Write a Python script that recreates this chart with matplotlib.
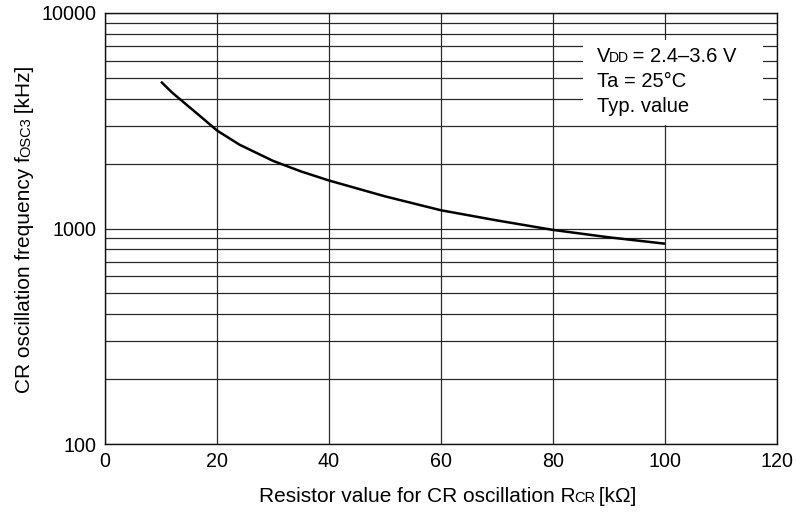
import numpy as np
import matplotlib
matplotlib.use("Agg")
import matplotlib.pyplot as plt
from matplotlib.patches import Rectangle
from matplotlib.ticker import FixedLocator, NullFormatter

plt.rcParams['font.family'] = ['Liberation Sans', 'DejaVu Sans']

# Curve data
r_cr = [10, 12, 14, 17, 20, 24, 30, 35, 40, 50, 60, 70, 80, 90, 100]       # kOhm
f_osc = [4800, 4270, 3860, 3320, 2850, 2450, 2060, 1840, 1670, 1410,
         1215, 1090, 985, 910, 850]                                         # kHz

x_ticks = [0, 20, 40, 60, 80, 100, 120]
y_ticks = [100, 1000, 10000]
y_minor = [200, 300, 400, 500, 600, 700, 800, 900,
           2000, 3000, 4000, 5000, 6000, 7000, 8000, 9000]

W, H = 797, 513
fig = plt.figure(figsize=(W / 100, H / 100), dpi=100)
ax = fig.add_axes([105 / W, 1 - 444 / H, 672 / W, 431 / H])

ax.set_yscale('log')
ax.set_xlim(0, 120)
ax.set_ylim(100, 10000)
ax.set_xticks(x_ticks)
ax.set_yticks(y_ticks)
ax.set_yticklabels([str(v) for v in y_ticks])
ax.yaxis.set_minor_locator(FixedLocator(y_minor))
ax.yaxis.set_minor_formatter(NullFormatter())
ax.tick_params(which='both', length=0, labelsize=14.2, pad=6)

grid_kw = dict(color='#2a2a2a', lw=0.9)
ax.grid(True, which='major', axis='both', **grid_kw)
ax.grid(True, which='minor', axis='y', **grid_kw)
ax.set_axisbelow(True)
for s in ax.spines.values():
    s.set_color('#111111')
    s.set_linewidth(1.0)

ax.plot(r_cr, f_osc, color='black', lw=1.8, solid_capstyle='butt', zorder=3)

# white box behind the conditions text
ax.add_patch(Rectangle((0.711, 0.740), 0.268, 0.197, transform=ax.transAxes,
                       facecolor='white', edgecolor='none', zorder=2))


def rich_text(x, y, pieces, rotation=0, center=True, kern=1.5):
    # pieces: (text, size); small pieces sit on the same baseline
    r = fig.canvas.get_renderer()
    texts, widths = [], []
    for s, size in pieces:
        t = fig.text(0, 0, s, fontsize=size, rotation=rotation,
                     rotation_mode='anchor', ha='left', va='baseline', zorder=5)
        bb = t.get_window_extent(r)
        widths.append((bb.height if rotation == 90 else bb.width) - kern)
        texts.append(t)
    pos = -sum(widths) / 2 if center else 0
    for t, w in zip(texts, widths):
        if rotation == 90:
            t.set_position((x / W, (y + pos) / H))
        else:
            t.set_position(((x + pos) / W, y / H))
        pos += w


big, small = 15, 10.5
rich_text(447, H - 501.5, [('Resistor value for CR oscillation R', big),
                           ('CR', small), (' [k\u03a9]', big)])
rich_text(30, H - 230, [('CR oscillation frequency f', big),
                        ('OSC3', small), (' [kHz]', big)], rotation=90)

lt, ls = 14.5, 10
rich_text(597, H - 62, [('V', lt), ('DD', ls), (' = 2.4\u20133.6 V', lt)], center=False)
rich_text(597, H - 87, [('Ta = 25\u00b0C', lt)], center=False)
rich_text(597, H - 112, [('Typ. value', lt)], center=False)

fig.savefig('out.png', dpi=100)
